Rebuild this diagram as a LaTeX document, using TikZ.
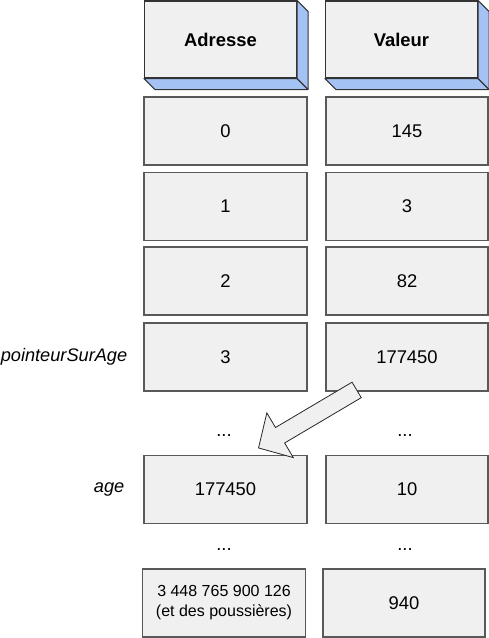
\documentclass[tikz,border=0pt]{standalone}
\usepackage{fontspec}
\setmainfont{Liberation Sans}
\usetikzlibrary{calc}
\definecolor{fondcase}{HTML}{F0F0F0}
\definecolor{bordcase}{HTML}{595959}
\definecolor{profondeur}{HTML}{A4C2F4}
\begin{document}
\begin{tikzpicture}[x=1pt,y=-1pt,
  case/.style={draw=bordcase, line width=1.1pt, fill=fondcase, minimum width=163pt,
    minimum height=68pt, inner sep=0pt, font=\fontsize{18.4}{21}\selectfont},
  entete/.style={case, draw=black!80, minimum width=152pt, minimum height=77pt,
    font=\fontsize{18.4}{21}\selectfont\bfseries},
  relief/.style={draw=black!80, line width=1.1pt, fill=profondeur, line join=round},
  etiquette/.style={inner sep=0pt, font=\fontsize{18.2}{21}\selectfont\itshape},
  points/.style={font=\fontsize{18.4}{21}\selectfont},
  fleche/.style={draw=black!85, line width=0.8pt, fill=fondcase}]
\useasboundingbox (0,0) rectangle (489,638);
% En-tetes en relief
\node[entete] (hdrAdr) at (220.5,39.5) {Adresse};
\node[entete] (hdrVal) at (401.5,39.5) {Valeur};
\foreach \n in {hdrAdr,hdrVal} {
  \draw[relief] (\n.north east) -- ++(11,11) -- ($(\n.south east)+(11,11)$)
    -- ($(\n.south west)+(11,11)$) -- (\n.south west) -- (\n.south east) -- cycle;
  \draw[relief] (\n.south east) -- ++(11,11);
}
% Cases memoire
\foreach \y/\a/\v [count=\i] in {131/0/145, 206.5/1/3, 281/2/82, 357/3/177450, 489.5/177450/10} {
  \node[case] (adr\i) at (225.5,\y) {\a};
  \node[case, minimum width=162pt] (val\i) at (407,\y) {\v};
}
\node[case, font=\fontsize{16}{20}\selectfont, align=center] (adr6) at (224,603)
  {3 448 765 900 126\\(et des poussières)};
\node[case, minimum width=162pt] (val6) at (404,603) {940};
% Noms des variables
\node[etiquette, anchor=east] (nomPointeur) at ($(adr4.west)+(-16,0)$) {pointeurSurAge};
\node[etiquette, anchor=east] (nomAge) at ($(adr5.west)+(-19,0)$) {age};
% Points de suspension
\node[points] (suiteAdr1) at (224,436) {...};
\node[points] (suiteVal1) at (405,436) {...};
\node[points] (suiteAdr2) at (224,550) {...};
\node[points] (suiteVal2) at (405,550) {...};
% Fleche du pointeur
\coordinate (pointe) at ($(adr5.north east)+(-49,-7)$);
\begin{scope}[shift={(pointe)}, rotate=30.6]
  \draw[fleche] (0,0) -- (25,26) -- (25,9) -- (114,9) -- (114,-9) -- (25,-9) -- (25,-26) -- cycle;
\end{scope}
\end{tikzpicture}
\end{document}
